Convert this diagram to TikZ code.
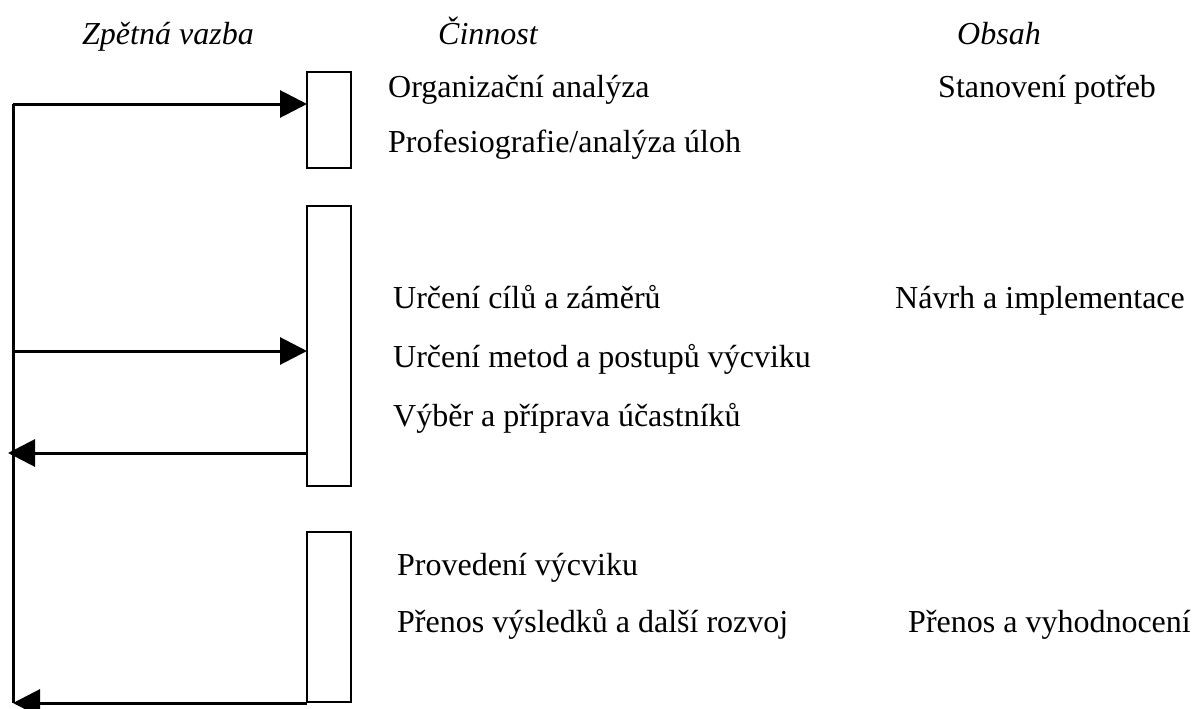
\documentclass[tikz,border=0pt]{standalone}
\usepackage{fontspec}
\setmainfont{Liberation Serif}
\usetikzlibrary{arrows.meta}
\begin{document}
\begin{tikzpicture}[x=1pt,y=-1pt,
  stagebox/.style={draw, line width=1.3pt, inner sep=0pt, outer sep=0pt, minimum width=44pt, anchor=north west},
  fb/.style={line width=3pt},
  arr/.style={line width=3pt, -{Triangle[length=27pt,width=27pt]}},
  lbl/.style={anchor=base west, inner sep=0pt, font=\fontsize{32}{38}\selectfont},
  hdr/.style={anchor=base west, inner sep=0pt, font=\fontsize{32}{38}\selectfont\itshape}]
\useasboundingbox (0,0) rectangle (1192,709);
% headers
\node[hdr] (h1) at (82,45) {Zpětná vazba};
\node[hdr] (h2) at (438,45) {Činnost};
\node[hdr] (h3) at (957,45) {Obsah};
% boxes
\node[stagebox, minimum height=96pt] (b1) at (307,72) {};
\node[stagebox, minimum height=280pt] (b2) at (307,206) {};
\node[stagebox, minimum height=170pt] (b3) at (307,532) {};
% texts
\node[lbl] (t1) at (388,97) {Organizační analýza};
\node[lbl] (t2) at (388,152) {Profesiografie/analýza úloh};
\node[lbl] (o1) at (938,97) {Stanovení potřeb};
\node[lbl] (t3) at (393,308) {Určení cílů a záměrů};
\node[lbl] (t4) at (393,367) {Určení metod a postupů výcviku};
\node[lbl] (t5) at (393,426) {Výběr a příprava účastníků};
\node[lbl] (o2) at (895,308) {Návrh a implementace};
\node[lbl] (t6) at (397,575) {Provedení výcviku};
\node[lbl] (t7) at (397,632) {Přenos výsledků a další rozvoj};
\node[lbl] (o3) at (908,632) {Přenos a vyhodnocení};
% feedback line
\coordinate (c1) at (13,104);
\coordinate (c2) at (13,351);
\coordinate (c3) at (8,453);
\coordinate (c4) at (13,703);
\draw[fb] (c1) -- (c4);
\draw[arr] (c1) -- (c1 -| b1.west);
\draw[arr] (c2) -- (c2 -| b2.west);
\draw[arr] (c3 -| b2.west) -- (c3);
\draw[arr] (c4 -| b3.west) -- (c4);
\end{tikzpicture}
\end{document}
